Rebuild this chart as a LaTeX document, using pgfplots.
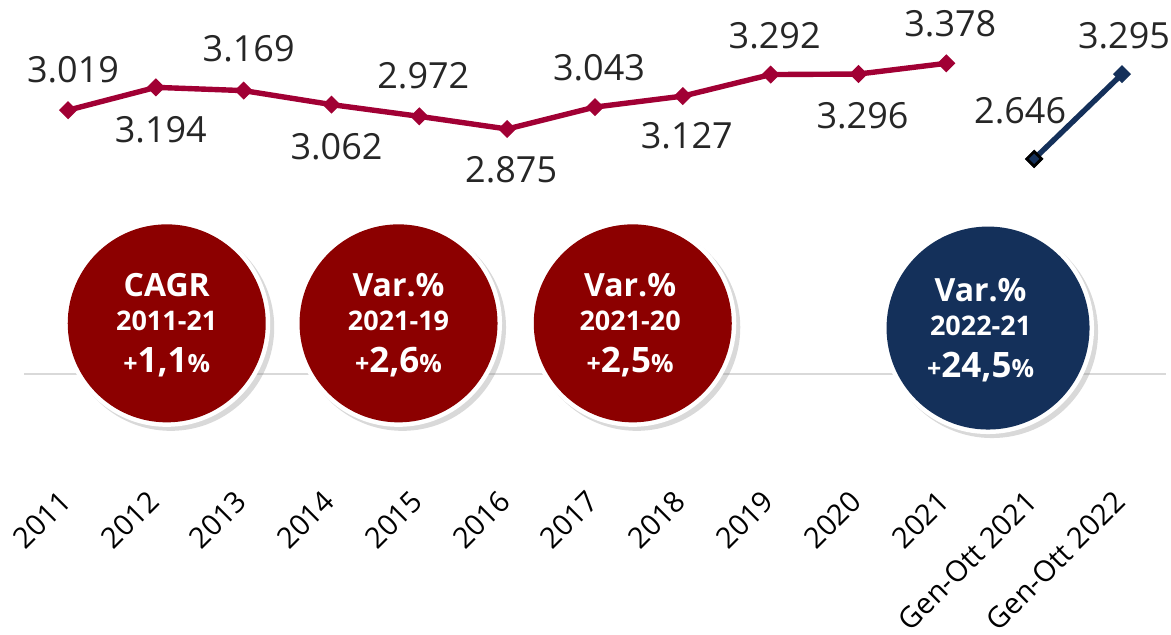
\documentclass[border=0pt]{standalone}
\usepackage{fontspec}
\setmainfont{Open Sans}
\usepackage{pgfplots}
\usepackage{pgfplotstable}
\pgfplotsset{compat=1.18}
\usetikzlibrary{shadows}
\definecolor{linered}{HTML}{A10034}
\definecolor{circred}{HTML}{8C0000}
\definecolor{navy}{HTML}{14305A}
\definecolor{txt}{HTML}{262626}
\definecolor{axgray}{HTML}{D9D9D9}

\pgfplotstableread{
x y lab dy dx
0 3019 3.019 20.5 2.5
1 3194 3.194 -21 2.5
2 3169 3.169 21 2.5
3 3062 3.062 -21 2.5
4 2972 2.972 20.5 2
5 2875 2.875 -20.5 2
6 3043 3.043 19.5 2
7 3127 3.127 -20 2
8 3292 3.292 19.5 2
9 3296 3.296 -21 2
10 3378 3.378 20 2
}\redtab

\pgfplotstableread{
x y lab dy dx
11 2646 2.646 24 -7
12 3295 3.295 19 1
}\navtab

\newcommand{\circletext}[4]{%
  \node[white, font=\bfseries\fontsize{16}{16}\selectfont] at ([yshift=19pt]#1) {#2};
  \node[white, font=\bfseries\fontsize{13.5}{14}\selectfont] at ([yshift=1.5pt]#1) {#3};
  \node[white, font=\bfseries] at ([yshift=-19.5pt]#1) {{\fontsize{12.5}{13}\selectfont+}{\fontsize{17.5}{18}\selectfont#4}{\fontsize{12.5}{13}\selectfont\%}};
}

\pgfplotsset{lbl/.style={
  nodes near coords,
  point meta=explicit symbolic,
  visualization depends on={\thisrow{dy}\as\dy},
  visualization depends on={\thisrow{dx}\as\dx},
  nodes near coords style={anchor=center, yshift=\dy pt, xshift=\dx pt, text=txt, font=\fontsize{18}{20}\selectfont},
}}

\begin{document}
\begin{tikzpicture}
\begin{axis}[
  at={(12.05pt,130.55pt)}, anchor=south west,
  scale only axis, width=570.9pt, height=163.25pt,
  xmin=-0.5, xmax=12.5, ymin=1000, ymax=3500,
  axis x line*=bottom, axis y line=none,
  x axis line style={draw=axgray, line width=1pt, -},
  ytick=\empty,
  xtick={0,...,12},
  xticklabels={2011,2012,2013,2014,2015,2016,2017,2018,2019,2020,2021,Gen-Ott 2021,Gen-Ott 2022},
  major tick length=0pt,
  xticklabel style={xshift=-5pt, yshift=-52.5pt, rotate=45, anchor=north east, font=\fontsize{14.5}{15}\selectfont, text=black},
  clip=false,
]
\addplot[linered, line width=2.7pt, mark=square*, mark size=2.9pt,
  mark options={rotate=45, line width=0.6pt, solid, fill=linered},
  lbl] table[x=x, y=y, meta=lab]{\redtab};
\addplot[navy, line width=2.7pt, mark=square*, mark size=2.9pt,
  mark options={rotate=45, line width=0.6pt, solid, fill=navy},
  lbl] table[x=x, y=y, meta=lab]{\navtab};
\addplot[only marks, mark=square*, mark size=2.6pt,
  mark options={rotate=45, draw=black, line width=1.4pt, fill=navy}] coordinates {(11,2646)};

% circles
\fill[white, drop shadow={shadow xshift=2pt, shadow yshift=-2pt, opacity=0.3}] (axis cs:1.124,1387) circle[radius=51.75pt];
\fill[circred] (axis cs:1.124,1387) circle[radius=49.5pt];
\fill[white, drop shadow={shadow xshift=2pt, shadow yshift=-2pt, opacity=0.3}] (axis cs:3.763,1387) circle[radius=51.75pt];
\fill[circred] (axis cs:3.763,1387) circle[radius=49.5pt];
\fill[white, drop shadow={shadow xshift=2pt, shadow yshift=-2pt, opacity=0.3}] (axis cs:6.43,1387) circle[radius=51.75pt];
\fill[circred] (axis cs:6.43,1387) circle[radius=49.5pt];
\fill[white, drop shadow={shadow xshift=2pt, shadow yshift=-2pt, opacity=0.3}] (axis cs:10.475,1351) circle[radius=53pt];
\fill[navy] (axis cs:10.475,1351) circle[radius=50.75pt];

\circletext{axis cs:1.124,1387}{CAGR}{2011-21}{1,1}
\circletext{axis cs:3.763,1387}{Var.\%}{2021-19}{2,6}
\circletext{axis cs:6.40,1387}{Var.\%}{2021-20}{2,5}
\circletext{axis cs:10.39,1347}{Var.\%}{2022-21}{24,5}
\end{axis}
\pgfresetboundingbox
\path[use as bounding box] (0,0) rectangle (585.5pt,317.5pt);
\end{tikzpicture}
\end{document}
